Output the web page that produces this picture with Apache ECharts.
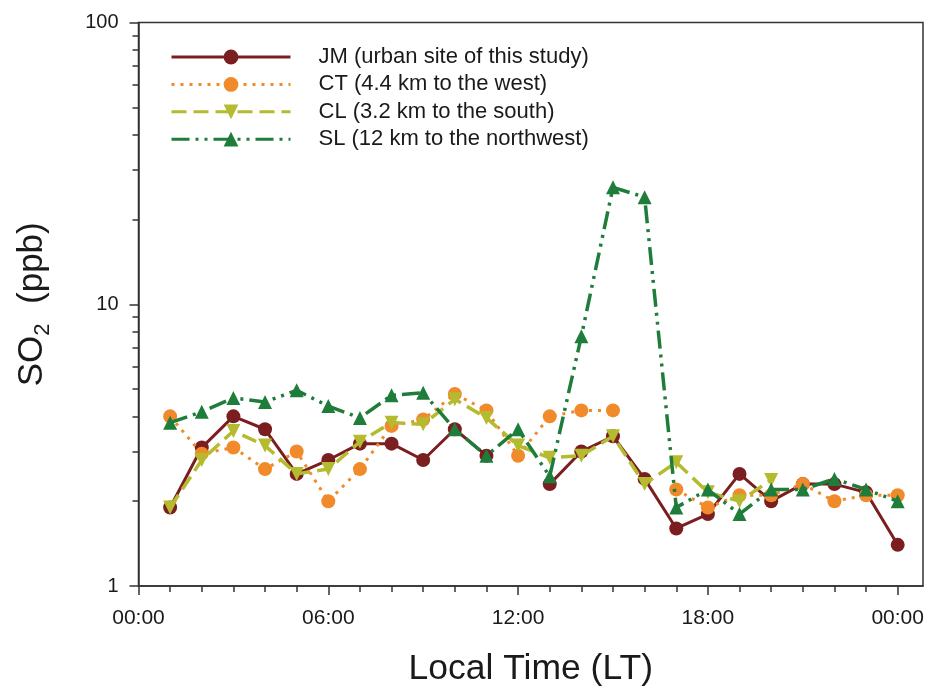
<!DOCTYPE html>
<html>
<head>
<meta charset="utf-8">
<script src="https://cdn.jsdelivr.net/npm/echarts@6/dist/echarts.min.js"></script>
<style>
html, body { margin: 0; padding: 0; background: #fff; }
#main { width: 931px; height: 692px; }
</style>
</head>
<body>
<div id="main"></div>
<script>
// hour of day (1..24), SO2 in ppb
var hours = [1,2,3,4,5,6,7,8,9,10,11,12,13,14,15,16,17,18,19,20,21,22,23,24]
var jm = [1.9,3.1,4.0,3.6,2.5,2.8,3.2,3.2,2.8,3.6,2.9,null,2.3,3.0,3.4,2.4,1.6,1.8,2.5,2.0,2.3,2.3,2.15,1.4]
var ct = [4.0,2.95,3.1,2.6,3.0,2.0,2.6,3.7,3.9,4.8,4.2,2.9,4.0,4.2,4.2,null,2.2,1.9,2.1,2.1,2.3,2.0,2.1,2.1]
var cl = [1.9,2.8,3.55,3.15,2.5,2.6,3.25,3.8,3.75,4.6,3.95,3.15,2.85,2.9,3.4,2.3,2.75,2.15,2.0,2.38,null,null,null,null]
var sl = [3.8,4.15,4.65,4.5,4.95,4.35,3.95,4.75,4.85,3.6,2.9,3.6,2.45,7.7,26,24,1.9,2.2,1.8,2.2,2.2,2.4,2.2,2.0]

var names = ['JM (urban site of this study)', 'CT (4.4 km to the west)', 'CL (3.2 km to the south)', 'SL (12 km to the northwest)']
var xMajor = [0, 6, 12, 18, 24]
var xMinor = [0,1,2,3,4,5,6,7,8,9,10,11,12,13,14,15,16,17,18,19,20,21,22,23,24]
var yMinor = [2,3,4,5,6,7,8,9,20,30,40,50,60,70,80,90]

var font = 'Liberation Sans, Arial, sans-serif'
var axisColor = '#333'
var textColor = '#1a1a1a'

function pairs(arr) {
    return hours.map(function (h, i) { return [h, arr[i]] })
}

var myChart = echarts.init(document.getElementById('main'))
var option = {
    animation: false,
    grid: {
        left: 138.5,
        right: 8,
        top: 22.5,
        bottom: 103.5,
        show: true,
        borderColor: axisColor,
        borderWidth: 1.5
    },
    legend: {
        orient: 'vertical',
        left: 170,
        top: 46,
        padding: 0,
        itemWidth: 119,
        itemHeight: 18.5,
        itemGap: 5.4,
        lineStyle: { width: 3 },
        textStyle: {
            fontFamily: font,
            fontSize: 22,
            color: textColor,
            padding: [0, 0, 0, 23]
        },
        data: names
    },
    xAxis: [
        {
            type: 'value',
            min: 0,
            max: 24.8,
            name: 'Local Time (LT)',
            nameLocation: 'middle',
            nameGap: 65,
            nameTextStyle: { fontFamily: font, fontSize: 35.5, color: textColor },
            axisLine: { lineStyle: { color: axisColor, width: 1.5 } },
            axisTick: { length: 9, customValues: xMajor, lineStyle: { color: axisColor, width: 1.5 } },
            axisLabel: {
                customValues: xMajor,
                margin: 22,
                fontFamily: font,
                fontSize: 21,
                color: textColor,
                formatter: function (v) {
                    var h = Math.round(v) % 24
                    return (h < 10 ? '0' : '') + h + ':00'
                }
            },
            splitLine: { show: false }
        },
        {
            type: 'value',
            position: 'bottom',
            min: 0,
            max: 24.8,
            axisLine: { show: false },
            axisTick: { length: 6, customValues: xMinor, lineStyle: { color: axisColor, width: 1.5 } },
            axisLabel: { show: false },
            splitLine: { show: false }
        }
    ],
    yAxis: [
        {
            type: 'log',
            logBase: 10,
            min: 1,
            max: 100,
            name: '{a|SO}{b|2}{a|  (ppb)}',
            nameLocation: 'middle',
            nameGap: 85,
            nameRotate: 90,
            nameTextStyle: {
                fontFamily: font,
                color: textColor,
                rich: {
                    a: { fontFamily: font, fontSize: 35, lineHeight: 42, verticalAlign: 'middle', color: textColor },
                    b: { fontFamily: font, fontSize: 22, lineHeight: 22, verticalAlign: 'bottom', color: textColor }
                }
            },
            axisLine: { lineStyle: { color: axisColor, width: 1.5 } },
            axisTick: { length: 9, lineStyle: { color: axisColor, width: 1.5 } },
            axisLabel: { margin: 20, fontFamily: font, fontSize: 20, color: textColor },
            splitLine: { show: false }
        },
        {
            type: 'log',
            logBase: 10,
            position: 'left',
            min: 1,
            max: 100,
            axisLine: { show: false },
            axisTick: { length: 6, customValues: yMinor, lineStyle: { color: axisColor, width: 1.5 } },
            axisLabel: { show: false },
            splitLine: { show: false }
        }
    ],
    series: [
        {
            name: names[0],
            type: 'line',
            data: pairs(jm),
            symbol: 'circle',
            symbolSize: 14,
            color: '#7b1e20',
            lineStyle: { width: 3, type: 'solid' },
            z: 2
        },
        {
            name: names[1],
            type: 'line',
            data: pairs(ct),
            symbol: 'circle',
            symbolSize: 14,
            color: '#f08a2a',
            lineStyle: { width: 3, type: [3, 6] },
            z: 3
        },
        {
            name: names[2],
            type: 'line',
            data: pairs(cl),
            symbol: 'triangle',
            symbolRotate: 180,
            symbolSize: 14,
            color: '#b4bb2f',
            lineStyle: { width: 3.5, type: [15, 7] },
            z: 4
        },
        {
            name: names[3],
            type: 'line',
            data: pairs(sl),
            symbol: 'triangle',
            symbolSize: 14,
            color: '#1f7d3b',
            lineStyle: { width: 3.5, type: [18, 6, 3, 6, 3, 6] },
            z: 5
        }
    ]
}
myChart.setOption(option)
</script>
</body>
</html>
